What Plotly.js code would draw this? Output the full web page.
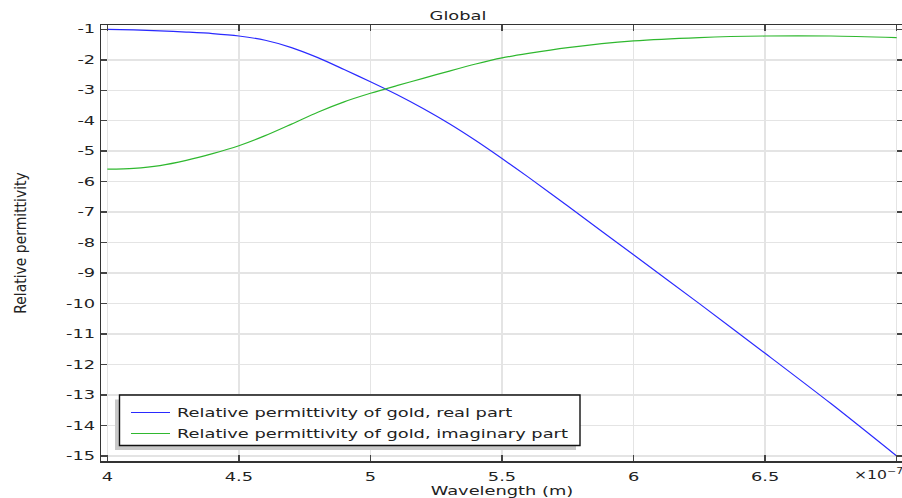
<!DOCTYPE html>
<html>
<head>
<meta charset="utf-8">
<script src="https://cdn.plot.ly/plotly-3.0.1.min.js"></script>
<style>
html,body{margin:0;padding:0;overflow:hidden;background:#fff;}
#chart{width:904px;height:498px;}
</style>
</head>
<body>
<div id="chart"></div>
<script>
// Wavelength in units of 1e-7 m
var wavelength = [4.0, 4.1, 4.2, 4.3, 4.4, 4.5, 4.6, 4.7, 4.8, 4.9, 5.0, 5.1, 5.2, 5.3, 5.4, 5.5, 5.6, 5.75, 6.0, 6.25, 6.5, 6.75, 7.0];
var realPart   = [-1.00, -1.02, -1.05, -1.09, -1.14, -1.22, -1.36, -1.60, -1.93, -2.32, -2.72, -3.14, -3.60, -4.10, -4.65, -5.24, -5.85, -6.80, -8.40, -10.00, -11.63, -13.28, -15.00];
var imagPart   = [-5.59, -5.56, -5.47, -5.30, -5.08, -4.82, -4.49, -4.11, -3.72, -3.38, -3.10, -2.85, -2.61, -2.37, -2.14, -1.94, -1.79, -1.60, -1.38, -1.27, -1.22, -1.22, -1.27];
var seriesNames = ["Relative permittivity of gold, real part", "Relative permittivity of gold, imaginary part"];
var xTickVals = [4, 4.5, 5, 5.5, 6, 6.5, 7];
var xTickText = ["4", "4.5", "5", "5.5", "6", "6.5", ""];
var yTickVals = [-1, -2, -3, -4, -5, -6, -7, -8, -9, -10, -11, -12, -13, -14, -15];
var yTickText = ["-1", "-2", "-3", "-4", "-5", "-6", "-7", "-8", "-9", "-10", "-11", "-12", "-13", "-14", "-15"];

var FONT = "DejaVu Sans, Verdana, sans-serif";
var FS = 11.5;
var traces = [
  {x: wavelength, y: realPart, name: seriesNames[0], mode: "lines", legendgroup: "a",
   line: {color: "#2a2aff", width: 1.2, shape: "spline", smoothing: 0.8}},
  {x: wavelength, y: imagPart, name: seriesNames[1], mode: "lines", legendgroup: "b",
   line: {color: "#2fb82f", width: 1.2, shape: "spline", smoothing: 0.8}}
];

var W = 904, H = 498, L = 101, R = 1, T = 25, B = 37;
function px2paperX(p){ return (p - L) / (W - L - R); }
function px2paperY(p){ return (H - B - p) / (H - T - B); }

var layout = {
  width: W, height: H,
  margin: {l: L, r: R, t: T, b: B, pad: 0},
  paper_bgcolor: "#ffffff", plot_bgcolor: "#ffffff",
  font: {family: FONT, size: FS, color: "#222"},
  showlegend: true,
  title: {text: "Global", font: {family: FONT, size: FS, color: "#222"},
          x: 458 / W, xanchor: "center", xref: "container",
          y: 1 - 16 / H, yanchor: "middle", yref: "container"},
  xaxis: {
    range: [3.976, 7.024], tickvals: xTickVals, ticktext: xTickText,
    ticks: "inside", ticklen: 6, tickwidth: 1.5, tickcolor: "#444",
    showline: true, linecolor: "#333", linewidth: 1.5, mirror: "ticks",
    showgrid: true, gridcolor: "#e4e4e4", gridwidth: 1.5, zeroline: false,
    ticklabelstandoff: 5,
    tickfont: {family: FONT, size: FS, color: "#222"},
    title: {text: "Wavelength (m)", font: {family: FONT, size: FS, color: "#222"}, standoff: 0}
  },
  yaxis: {
    range: [-15.164, -0.859], tickvals: yTickVals, ticktext: yTickText,
    ticks: "inside", ticklen: 6, tickwidth: 1.5, tickcolor: "#444",
    showline: true, linecolor: "#333", linewidth: 1.5, mirror: "ticks",
    showgrid: true, gridcolor: "#e4e4e4", gridwidth: 1.5, zeroline: false,
    ticklabelstandoff: 2,
    tickfont: {family: FONT, size: FS, color: "#222"},
    title: {text: "Relative permittivity", font: {family: "DejaVu Sans Condensed, Liberation Sans Narrow, DejaVu Sans, sans-serif", size: 15.5, color: "#222"}, standoff: 46}
  },
  legend: {
    x: px2paperX(126), y: px2paperY(398), xanchor: "left", yanchor: "top",
    bgcolor: "rgba(0,0,0,0)", borderwidth: 0,
    font: {family: FONT, size: FS, color: "#222"},
    traceorder: "grouped", tracegroupgap: 2
  },
  shapes: [
    {type: "rect", xref: "paper", yref: "paper", layer: "above",
     x0: px2paperX(115), x1: px2paperX(576), y0: px2paperY(399.5), y1: px2paperY(450),
     fillcolor: "#c8c8c8", line: {width: 0}},
    {type: "rect", xref: "paper", yref: "paper", layer: "above",
     x0: px2paperX(119.5), x1: px2paperX(580), y0: px2paperY(395), y1: px2paperY(445.5),
     fillcolor: "#ffffff", line: {width: 1.4, color: "#111"}}
  ],
  annotations: [
    {text: "×10<sup>−7</sup>", xref: "paper", yref: "paper", x: px2paperX(852), y: px2paperY(475),
     xanchor: "left", yanchor: "middle", showarrow: false,
     font: {family: FONT, size: FS, color: "#222"}}
  ]
};

var SX = 1.55;
function stretchText(t, mode, sx){
  var s = sx || SX;
  var bb = t.getBBox();
  var anchor = mode || t.getAttribute("text-anchor") || "start";
  var px = anchor === "middle" ? bb.x + bb.width / 2 : (anchor === "end" ? bb.x + bb.width : bb.x);
  var tr = t.getAttribute("transform") || "";
  t.setAttribute("transform", tr + " translate(" + px + ",0) scale(" + s + ",1) translate(" + (-px) + ",0)");
}

Plotly.newPlot("chart", traces, layout, {displayModeBar: false, staticPlot: true}).then(function(gd){
  gd.querySelectorAll(".xtick text, .ytick text, text.gtitle, text.xtitle").forEach(function(t){ stretchText(t); });
  gd.querySelectorAll("text.annotation-text").forEach(function(t){ stretchText(t, "start", 1.36); });
  gd.querySelectorAll(".legend .scrollbox, .legend").forEach(function(g){ g.removeAttribute("clip-path"); });
  gd.querySelectorAll(".legend .legendlines path").forEach(function(p){
    var tr = p.getAttribute("transform") || "";
    p.setAttribute("transform", tr + " translate(5,0) scale(1.3,1) translate(-5,0)");
  });
  gd.querySelectorAll(".legend text.legendtext").forEach(function(t){
    stretchText(t, "start");
    var tr = t.getAttribute("transform") || "";
    t.setAttribute("transform", "translate(11,0) " + tr);
  });
});
</script>
</body>
</html>
